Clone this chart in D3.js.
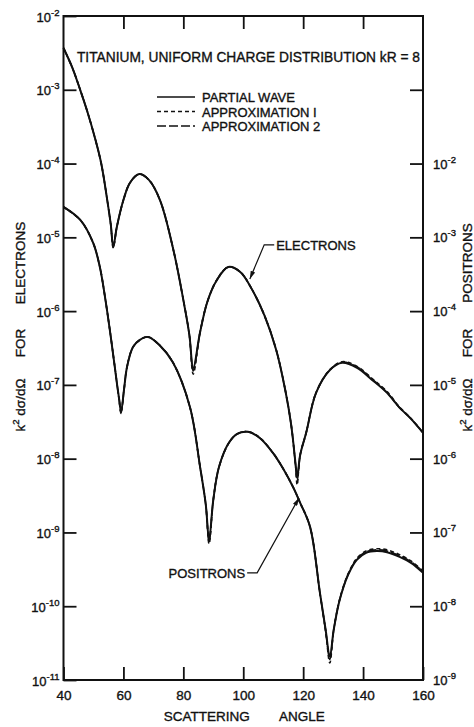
<!DOCTYPE html>
<html>
<head>
<meta charset="utf-8">
<script src="https://cdn.jsdelivr.net/npm/d3@7"></script>
<style>
  body { margin: 0; background: #fff; }
  svg text { font-family: "Liberation Sans", Arial, sans-serif; fill: #111; stroke: #111; stroke-width: 0.35px; }
</style>
</head>
<body>
<div class="chart"></div>
<script>
// scattering angle (deg) -> k^2 dsigma/dOmega, electrons (left scale)
var eAngle = [40, 43, 45.6, 48, 50.5, 52.6, 54.6, 55.8, 56.6, 57.8, 60, 62.2, 65.3, 68.5, 72.2,
    76.7, 80, 82, 83.3, 85.6, 88, 91, 95, 99, 103, 107, 111, 114, 116, 117.5,
    118, 119, 121, 124.3, 129, 133, 138, 143, 148, 152, 156, 160];
var ePartial = [3.68e-3, 1.97e-3, 9.9e-4, 5.0e-4, 2.22e-4, 1.0e-4, 3.2e-5, 1.47e-5, 7.4e-6, 1.38e-5,
    3.2e-5, 5.5e-5, 7.2e-5, 6.0e-5, 3.2e-5, 6.7e-6, 1.42e-6, 4.8e-7, 1.7e-7, 5.2e-7,
    1.33e-6, 2.56e-6, 3.97e-6, 3.4e-6, 1.94e-6, 8.9e-7, 2.98e-7, 8.6e-8, 2.87e-8, 8.2e-9,
    5.5e-9, 1.12e-8, 2.24e-8, 7.8e-8, 1.6e-7, 1.99e-7, 1.7e-7, 1.17e-7, 7.8e-8, 5.0e-8,
    3.46e-8, 2.24e-8];
var eApprox1 = [3.68e-3, 1.97e-3, 9.9e-4, 5.0e-4, 2.22e-4, 1.0e-4, 3.2e-5, 1.47e-5, 7.2e-6, 1.38e-5,
    3.2e-5, 5.5e-5, 7.2e-5, 6.0e-5, 3.2e-5, 6.7e-6, 1.42e-6, 4.8e-7, 1.4e-7, 5.2e-7,
    1.33e-6, 2.56e-6, 3.97e-6, 3.4e-6, 1.94e-6, 8.9e-7, 2.98e-7, 8.6e-8, 2.87e-8, 7.6e-9,
    4.4e-9, 1.12e-8, 2.24e-8, 7.8e-8, 1.62e-7, 2.06e-7, 1.78e-7, 1.22e-7, 8.1e-8, 5.1e-8,
    3.5e-8, 2.26e-8];
var eApprox2 = [3.68e-3, 1.97e-3, 9.9e-4, 5.0e-4, 2.22e-4, 1.0e-4, 3.2e-5, 1.47e-5, 7.3e-6, 1.38e-5,
    3.2e-5, 5.5e-5, 7.2e-5, 6.0e-5, 3.2e-5, 6.7e-6, 1.42e-6, 4.8e-7, 1.55e-7, 5.2e-7,
    1.33e-6, 2.56e-6, 3.97e-6, 3.4e-6, 1.94e-6, 8.9e-7, 2.98e-7, 8.6e-8, 2.87e-8, 7.9e-9,
    4.9e-9, 1.12e-8, 2.24e-8, 7.8e-8, 1.61e-7, 2.03e-7, 1.75e-7, 1.2e-7, 7.9e-8, 5.0e-8,
    3.48e-8, 2.25e-8];

// positrons (right scale)
var pAngle = [40, 45.6, 49.9, 52.2, 53.9, 55.6, 56.9, 57.9, 58.6, 59.2,
    60.2, 61.2, 63.2, 65.5, 68.2, 72, 76.6, 82.2, 85.6, 87.5,
    88.6, 90, 91.9, 95.2, 98, 101.6, 105.5, 109.9, 113, 116.6,
    119, 122.3, 125.6, 127.5, 128.9, 130.2, 132.2, 135, 137.9, 141,
    144.6, 148, 152.2, 156, 160];
var pPartial = [2.58e-3, 1.72e-3, 8.4e-4, 3.85e-4, 1.51e-4, 5.07e-5, 2.05e-5, 1.0e-5, 6.3e-6, 4.3e-6,
    8.6e-6, 1.75e-5, 3.27e-5, 4.07e-5, 4.47e-5, 3.48e-5, 1.99e-5, 5.0e-6, 7.7e-7, 2.37e-7,
    7.9e-8, 2.77e-7, 7.7e-7, 1.64e-6, 2.17e-6, 2.31e-6, 1.91e-6, 1.2e-6, 7.7e-7, 4.15e-7,
    2.52e-7, 1.19e-7, 1.52e-8, 4.8e-9, 2.06e-9, 4.8e-9, 1.22e-8, 2.66e-8, 4.25e-8, 5.3e-8,
    5.6e-8, 5.4e-8, 4.67e-8, 3.87e-8, 2.84e-8];
var pApprox1 = [2.58e-3, 1.72e-3, 8.4e-4, 3.85e-4, 1.51e-4, 5.07e-5, 2.05e-5, 1.0e-5, 6.1e-6, 4.1e-6,
    8.6e-6, 1.75e-5, 3.27e-5, 4.07e-5, 4.47e-5, 3.48e-5, 1.99e-5, 5.0e-6, 7.7e-7, 2.37e-7,
    7.0e-8, 2.77e-7, 7.7e-7, 1.64e-6, 2.17e-6, 2.33e-6, 1.93e-6, 1.2e-6, 7.7e-7, 4.15e-7,
    2.52e-7, 1.19e-7, 1.5e-8, 4.6e-9, 1.7e-9, 4.8e-9, 1.25e-8, 2.75e-8, 4.45e-8, 5.6e-8,
    6.0e-8, 5.8e-8, 5.0e-8, 4.1e-8, 3.0e-8];
var pApprox2 = [2.58e-3, 1.72e-3, 8.4e-4, 3.85e-4, 1.51e-4, 5.07e-5, 2.05e-5, 1.0e-5, 6.2e-6, 4.2e-6,
    8.6e-6, 1.75e-5, 3.27e-5, 4.07e-5, 4.47e-5, 3.48e-5, 1.99e-5, 5.0e-6, 7.7e-7, 2.37e-7,
    7.5e-8, 2.77e-7, 7.7e-7, 1.64e-6, 2.17e-6, 2.32e-6, 1.92e-6, 1.2e-6, 7.7e-7, 4.15e-7,
    2.52e-7, 1.19e-7, 1.51e-8, 4.7e-9, 1.9e-9, 4.8e-9, 1.23e-8, 2.7e-8, 4.35e-8, 5.45e-8,
    5.8e-8, 5.6e-8, 4.85e-8, 4.0e-8, 2.95e-8];

var xTicks = [40, 60, 80, 100, 120, 140, 160];
var leftTicks = [1e-2, 1e-3, 1e-4, 1e-5, 1e-6, 1e-7, 1e-8, 1e-9, 1e-10, 1e-11];
var rightTicks = [1e-1, 1e-2, 1e-3, 1e-4, 1e-5, 1e-6, 1e-7, 1e-8];
var rightLabels = [1e-2, 1e-3, 1e-4, 1e-5, 1e-6, 1e-7, 1e-8, 1e-9];
var legendNames = ["PARTIAL WAVE", "APPROXIMATION  I", "APPROXIMATION  2"];
var dashes = [null, "4,3", "9,3"];

var width = 474, height = 727;
var margin = {top: 16, right: 51, bottom: 47, left: 63.5};

var svg = d3.select(".chart").append("svg")
    .attr("width", width)
    .attr("height", height);

var xScale = d3.scaleLinear().domain([40, 160]).range([margin.left, width - margin.right]);
var yLeft = d3.scaleLog().domain([1e-11, 1e-2]).range([height - margin.bottom, margin.top]);
var yRight = d3.scaleLog().domain([1e-9, 1]).range([height - margin.bottom, margin.top]);

var x0 = xScale(40), x1 = xScale(160), yTop = yLeft(1e-2), yBot = yLeft(1e-11);

// superscript label "10^-n"
function powLabel(sel, d) {
    var e = Math.round(Math.log10(d));
    sel.append("tspan").text("10").style("font-size", "13px");
    sel.append("tspan").text(String(e)).attr("dy", -6).style("font-size", "9.5px");
}

// frame
svg.append("rect")
    .attr("x", x0).attr("y", yTop)
    .attr("width", x1 - x0).attr("height", yBot - yTop)
    .attr("fill", "none").attr("stroke", "#111").attr("stroke-width", 2);

// bottom axis
svg.append("g")
    .attr("transform", "translate(0," + yBot + ")")
    .call(d3.axisBottom(xScale).tickValues(xTicks).tickSizeInner(-13).tickSizeOuter(0).tickPadding(10))
    .call(function (g) { g.select(".domain").remove(); })
    .call(function (g) {
        g.selectAll("line").attr("stroke", "#111").attr("stroke-width", 1.8);
        g.selectAll("text").style("font-size", "13.5px").style("font-family", "Liberation Sans, Arial, sans-serif").attr("fill", "#111");
    });

// top axis ticks (no labels)
svg.append("g")
    .attr("transform", "translate(0," + yTop + ")")
    .call(d3.axisTop(xScale).tickValues(xTicks.slice(1, -1)).tickSizeInner(-13).tickSizeOuter(0).tickFormat(""))
    .call(function (g) { g.select(".domain").remove(); })
    .call(function (g) { g.selectAll("line").attr("stroke", "#111").attr("stroke-width", 1.8); });

// left axis
var gl = svg.append("g")
    .attr("transform", "translate(" + x0 + ",0)")
    .call(d3.axisLeft(yLeft).tickValues(leftTicks).tickSizeInner(-13).tickSizeOuter(0).tickFormat(""))
    .call(function (g) { g.select(".domain").remove(); });
gl.selectAll("line").attr("stroke", "#111").attr("stroke-width", 1.8);
gl.selectAll(".tick").append("text")
    .attr("x", -4).attr("y", 5)
    .attr("text-anchor", "end")
    .each(function (d) { powLabel(d3.select(this), d); });

// right axis
var gr = svg.append("g")
    .attr("transform", "translate(" + x1 + ",0)")
    .call(d3.axisRight(yRight).tickValues(rightTicks).tickSizeInner(-13).tickSizeOuter(0).tickFormat(""))
    .call(function (g) { g.select(".domain").remove(); });
gr.selectAll("line").attr("stroke", "#111").attr("stroke-width", 1.8);
svg.append("g").selectAll("text")
    .data(rightLabels)
    .enter().append("text")
    .attr("x", x1 + 10)
    .attr("y", function (d) { return yRight(d) + 5; })
    .each(function (d) { powLabel(d3.select(this), d); });

// curves
var line = function (yScale) {
    return d3.line()
        .x(function (d) { return xScale(d[0]); })
        .y(function (d) { return yScale(d[1]); })
        .curve(d3.curveCatmullRom.alpha(0.5));
};
var zip = function (a, b) { return a.map(function (v, i) { return [v, b[i]]; }); };

var series = [
    {ang: eAngle, vals: [ePartial, eApprox1, eApprox2], y: yLeft},
    {ang: pAngle, vals: [pPartial, pApprox1, pApprox2], y: yRight}
];
series.forEach(function (s) {
    s.vals.forEach(function (v, i) {
        svg.append("path")
            .attr("d", line(s.y)(zip(s.ang, v)))
            .attr("fill", "none")
            .attr("stroke", "#111")
            .attr("stroke-width", i === 0 ? 2 : 1.6)
            .attr("stroke-dasharray", dashes[i]);
    });
});

// title
svg.append("text")
    .attr("x", xScale(44.5)).attr("y", 62)
    .attr("textLength", 343).attr("lengthAdjust", "spacingAndGlyphs")
    .style("font-size", "14px")
    .text("TITANIUM, UNIFORM  CHARGE  DISTRIBUTION   kR = 8");

// legend
var lg = svg.append("g").selectAll("g")
    .data(legendNames)
    .enter().append("g")
    .attr("transform", function (d, i) { return "translate(157," + (97 + i * 14.5) + ")"; });
lg.append("line")
    .attr("x1", 0).attr("x2", 38)
    .attr("stroke", "#111").attr("stroke-width", 1.6)
    .attr("stroke-dasharray", function (d, i) { return dashes[i]; });
lg.append("text")
    .attr("x", 45).attr("y", 5)
    .style("font-size", "13px")
    .text(function (d) { return d; });

// axis titles
svg.append("text")
    .attr("x", (xScale(40) + xScale(160)) / 2 + 1).attr("y", 721)
    .attr("text-anchor", "middle")
    .style("font-size", "13.5px")
    .attr("xml:space", "preserve")
    .text("SCATTERING        ANGLE");

function sideTitle(xp, word) {
    var g = svg.append("g").attr("transform", "translate(" + xp + ",0)");
    [["k", 405], ["FOR", 343], [word, 263]].forEach(function (p, i) {
        var t = g.append("text")
            .attr("transform", "translate(0," + p[1] + ") rotate(-90)")
            .attr("text-anchor", "middle")
            .style("font-size", "13.5px");
        if (i === 0) {
            t.append("tspan").text("k");
            t.append("tspan").text("2").attr("dy", -6).style("font-size", "9.5px");
            t.append("tspan").text(" d\u03c3/d\u03a9").attr("dy", 6);
        } else {
            t.text(p[0]);
        }
    });
}
sideTitle(25, "ELECTRONS");
sideTitle(472, "POSITRONS");

// annotations with arrows
svg.append("defs").append("marker")
    .attr("id", "arr")
    .attr("viewBox", "0 0 10 6")
    .attr("refX", 10).attr("refY", 3)
    .attr("markerWidth", 9).attr("markerHeight", 4)
    .attr("orient", "auto")
    .append("path").attr("d", "M0,0 L10,3 L0,6 Z").attr("fill", "#111");

var eTip = [xScale(102.2), yLeft(2.73e-6)];
var eLab = [xScale(111), yLeft(7.9e-6)];
svg.append("path")
    .attr("d", "M" + (eLab[0] - 2) + "," + eLab[1] + " L" + (eLab[0] - 12) + "," + eLab[1] + " L" + eTip[0] + "," + eTip[1])
    .attr("fill", "none").attr("stroke", "#111").attr("stroke-width", 1.2)
    .attr("marker-end", "url(#arr)");
svg.append("text")
    .attr("x", eLab[0]).attr("y", eLab[1] + 5)
    .style("font-size", "13px")
    .text("ELECTRONS");

var pTip = [xScale(118.6), yRight(2.94e-7)];
var pLab = [xScale(101.3), yRight(2.84e-8)];
svg.append("path")
    .attr("d", "M" + pLab[0] + "," + pLab[1] + " L" + (pLab[0] + 10) + "," + pLab[1] + " L" + pTip[0] + "," + pTip[1])
    .attr("fill", "none").attr("stroke", "#111").attr("stroke-width", 1.2)
    .attr("marker-end", "url(#arr)");
svg.append("text")
    .attr("x", pLab[0] - 2).attr("y", pLab[1] + 5)
    .attr("text-anchor", "end")
    .style("font-size", "13px")
    .text("POSITRONS");
</script>
</body>
</html>
